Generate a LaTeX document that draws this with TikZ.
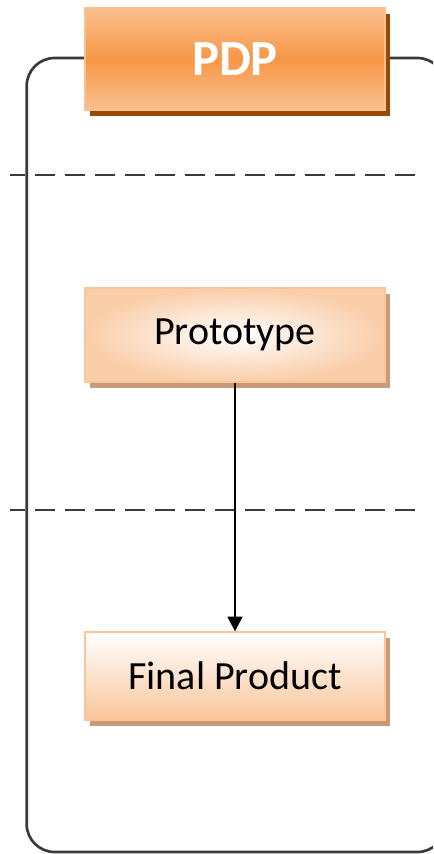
\documentclass[tikz,border=0pt]{standalone}
\usepackage{fontspec}
\setmainfont{Carlito}
\usetikzlibrary{shadows,arrows.meta}

\definecolor{pdporange}{HTML}{F79646}
\definecolor{pdplight}{HTML}{FAC090}
\definecolor{pdpdark}{HTML}{984807}
\definecolor{peach}{HTML}{F9C59A}
\definecolor{peachshadow}{HTML}{C99A78}
\definecolor{framegray}{HTML}{3A3A3A}

\begin{document}
\begin{tikzpicture}[x=0.75pt, y=-0.75pt,
	headbox/.style={rectangle, minimum width=225pt, minimum height=76.5pt, draw=pdplight, line width=1pt,
		top color=pdplight, bottom color=pdplight, middle color=pdporange,
		drop shadow={shadow xshift=3.75pt, shadow yshift=-4.5pt, fill=pdpdark, opacity=1},
		text=white, font=\fontsize{38}{44}\selectfont\bfseries},
	stagebox/.style={rectangle, minimum width=225pt, draw=peach, line width=1pt,
		drop shadow={shadow xshift=3.75pt, shadow yshift=-4.5pt, fill=peachshadow, opacity=1},
		text=black, font=\fontsize{30}{36}\selectfont},
	divider/.style={line width=2pt, color=framegray, dash pattern=on 15pt off 7.5pt, dash phase=3.75pt}]

		\useasboundingbox (0,0) rectangle (433,854);
		\clip (0,0) rectangle (433,854);

		\node[rectangle, rounded corners=21pt, draw=framegray, line width=2pt, minimum width=314pt, minimum height=595.5pt](frame) at (236,455){};

		\coordinate (cutOneL) at (10,175);
		\coordinate (cutOneR) at (422,175);
		\coordinate (cutTwoL) at (10,510);
		\coordinate (cutTwoR) at (422,510);
		\draw [divider] (cutOneL) -- (cutOneR);
		\draw [divider] (cutTwoL) -- (cutTwoR);

		\node[headbox](pdp) at (235,59){PDP};
		\node[stagebox, minimum height=70.5pt, inner color=white, outer color=peach!85](proto) at (235,335){Prototype};
		\node[stagebox, minimum height=66pt, top color=white, bottom color=peach](final) at (235,676){Final Product};

		\draw [-{Triangle[length=11pt, width=11pt]}, line width=2pt, color=black] (proto.south) -- (final.north);

	\end{tikzpicture}
\end{document}
